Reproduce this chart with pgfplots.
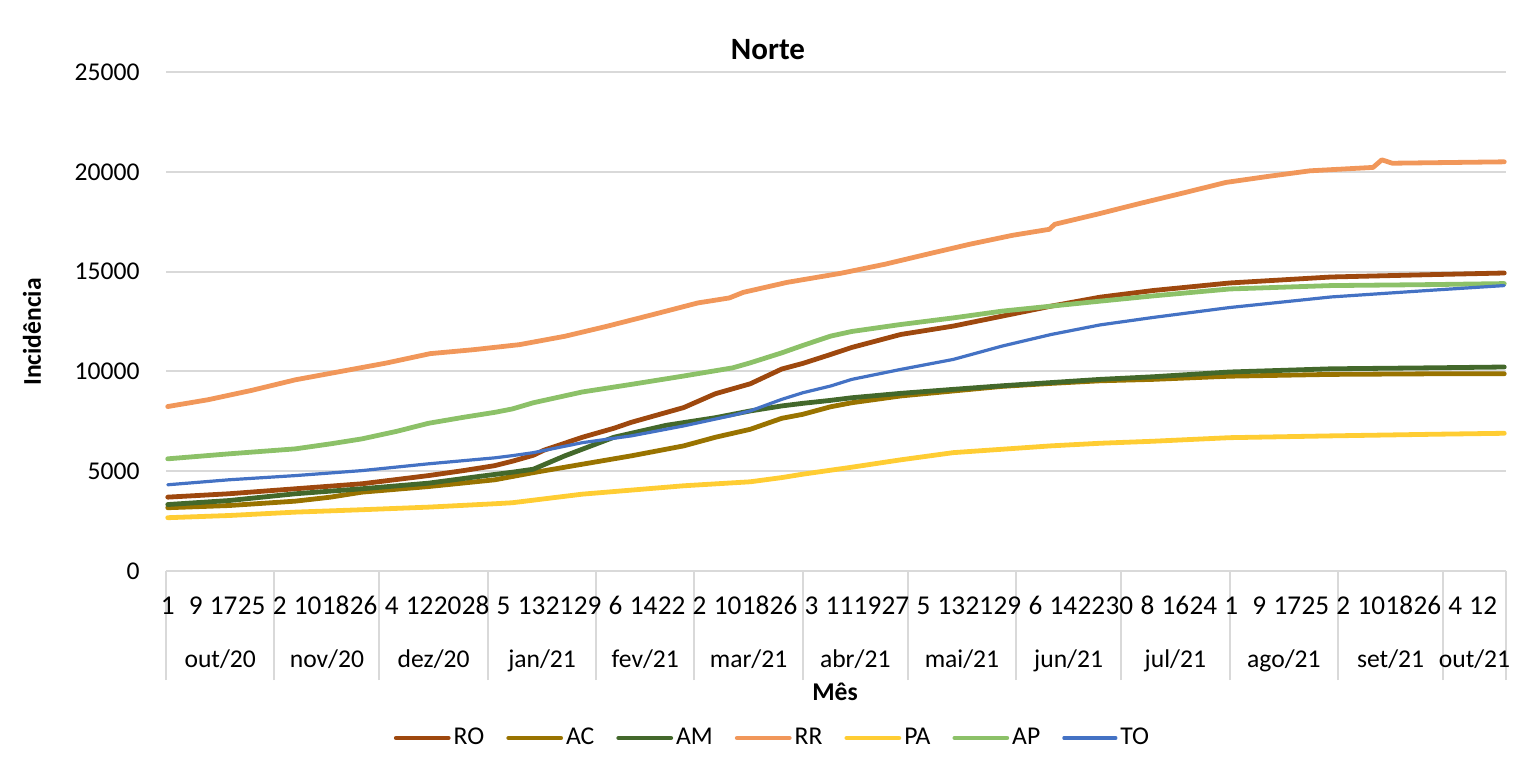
\documentclass[border=0pt]{standalone}
\usepackage{pgfplots}
\pgfplotsset{compat=1.18}
\usepackage{fontspec}
\setmainfont{Carlito}
\definecolor{cRO}{HTML}{9E480E}
\definecolor{cAC}{HTML}{997300}
\definecolor{cAM}{HTML}{43682B}
\definecolor{cRR}{HTML}{F1975A}
\definecolor{cPA}{HTML}{FFCD33}
\definecolor{cAP}{HTML}{8CC168}
\definecolor{cTO}{HTML}{4472C4}
\definecolor{gridgray}{HTML}{D9D9D9}
\begin{document}
\begin{tikzpicture}[font=\fontsize{12.8}{15}\selectfont]
\begin{axis}[
  set layers,
  at={(0pt,0pt)}, anchor=south west,
  scale only axis, width=670pt, height=249.5pt,
  xmin=0, xmax=383, ymin=0, ymax=25000,
  axis line style={draw=none},
  ymajorgrids, grid style={gridgray, line width=1pt},
  ytick={0,5000,10000,15000,20000,25000},
  ytick style={draw=none},
  yticklabel style={anchor=east, inner sep=0pt, xshift=-13pt},
  scaled y ticks=false,
  /pgf/number format/assume math mode=true,
  /pgf/number format/set thousands separator={},
  xtick={0.5,8.5,...,376.5},
  xticklabels={1,9,17,25,2,10,18,26,4,12,20,28,5,13,21,29,6,14,22,2,10,18,26,3,11,19,27,5,13,21,29,6,14,22,30,8,16,24,1,9,17,25,2,10,18,26,4,12},
  xtick pos=bottom,
  xtick style={draw=gridgray, line width=1pt},
  major tick length=0pt,
  xticklabel style={anchor=base, inner sep=0pt, yshift=-21.5pt, font=\fontsize{13.6}{15}\selectfont},
  extra x ticks={0,31,61,92,123,151,182,212,243,273,304,335,365,383},
  extra x tick labels={},
  extra x tick style={major tick length=54.5pt, tick align=outside, xtick pos=bottom},
  clip=false,
  every axis plot/.append style={line width=2.4pt, line join=round, line cap=round, mark=none},
  legend columns=7,
  legend style={draw=none, fill=none, at={(0.453,0)}, anchor=center, yshift=-83.5pt,
    nodes={inner sep=1.5pt},
    /tikz/every even column/.append style={column sep=9.5pt}},
  legend image code/.code={\draw[#1] (0pt,0pt) -- (26pt,0pt);},
]
\addplot[cRO] coordinates {(0.5,3700) (18,3870) (37,4120) (56,4370) (75,4780) (85,5030) (94,5280) (99,5500) (105,5800) (108,6050) (119,6700) (128,7150) (133,7450) (148,8190) (157,8880) (167,9380) (176,10120) (182,10400) (190,10850) (196,11200) (210,11850) (225,12270) (239,12770) (253,13270) (267,13720) (282,14050) (304,14430) (333,14730) (362,14850) (382.5,14930)};
\addlegendentry{RO}
\addplot[cAC] coordinates {(0.5,3170) (18,3280) (37,3500) (47,3700) (56,3950) (75,4230) (94,4570) (105,4930) (119,5350) (133,5770) (148,6270) (157,6700) (167,7100) (176,7650) (182,7850) (190,8230) (196,8430) (210,8770) (225,9020) (239,9250) (253,9400) (267,9530) (282,9600) (304,9760) (333,9850) (362,9880) (382.5,9880)};
\addlegendentry{AC}
\addplot[cAM] coordinates {(0.5,3330) (18,3530) (37,3870) (56,4120) (75,4400) (90,4750) (99,4950) (105,5100) (114,5770) (128,6700) (143,7300) (157,7680) (167,8020) (176,8270) (182,8400) (190,8550) (196,8680) (210,8900) (225,9100) (239,9280) (253,9440) (267,9600) (282,9730) (304,9970) (333,10130) (362,10180) (382.5,10220)};
\addlegendentry{AM}
\addplot[cRR] coordinates {(0.5,8240) (12,8580) (24.5,9050) (37,9580) (50,10000) (63,10420) (75.5,10890) (88,11090) (101,11340) (114,11760) (126,12260) (139,12840) (152,13430) (161,13680) (165,13960) (177.5,14460) (193,14920) (205.5,15370) (217.5,15870) (229.7,16370) (242,16820) (252.5,17120) (254,17370) (266,17870) (278.5,18420) (291,18950) (303,19470) (315,19770) (327,20050) (345,20220) (347.5,20600) (350.5,20430) (382.5,20500)};
\addlegendentry{RR}
\addplot[cPA] coordinates {(0.5,2670) (18,2780) (37,2950) (56,3070) (75,3200) (94,3370) (99,3420) (119,3850) (148,4270) (167,4470) (176,4680) (182,4850) (190,5050) (196,5200) (210,5570) (225,5930) (239,6100) (253,6270) (267,6400) (282,6500) (304,6680) (333,6770) (362,6850) (382.5,6900)};
\addlegendentry{PA}
\addplot[cAP] coordinates {(0.5,5620) (18,5870) (37,6120) (47,6370) (56,6620) (66,7000) (75,7400) (85,7700) (94,7950) (99,8120) (105,8430) (119,8970) (133,9350) (148,9770) (162,10180) (167,10430) (176,10930) (182,11300) (190,11770) (196,12000) (210,12350) (225,12680) (239,13020) (253,13270) (267,13520) (282,13780) (304,14130) (333,14300) (362,14350) (382.5,14400)};
\addlegendentry{AP}
\addplot[cTO, line width=1.6pt] coordinates {(0.5,4320) (18,4570) (37,4780) (56,5030) (75,5370) (94,5670) (99,5780) (105,5930) (119,6430) (133,6770) (148,7270) (162,7800) (167,8020) (176,8600) (182,8930) (190,9270) (196,9600) (210,10100) (225,10600) (239,11270) (253,11850) (267,12330) (282,12700) (304,13200) (333,13730) (362,14070) (382.5,14300)};
\addlegendentry{TO}
\node[anchor=base, yshift=-48pt] at (axis cs:15.5,0) {out/20};
\node[anchor=base, yshift=-48pt] at (axis cs:46,0) {nov/20};
\node[anchor=base, yshift=-48pt] at (axis cs:76.5,0) {dez/20};
\node[anchor=base, yshift=-48pt] at (axis cs:107.5,0) {jan/21};
\node[anchor=base, yshift=-48pt] at (axis cs:137,0) {fev/21};
\node[anchor=base, yshift=-48pt] at (axis cs:166.5,0) {mar/21};
\node[anchor=base, yshift=-48pt] at (axis cs:197,0) {abr/21};
\node[anchor=base, yshift=-48pt] at (axis cs:227.5,0) {mai/21};
\node[anchor=base, yshift=-48pt] at (axis cs:258,0) {jun/21};
\node[anchor=base, yshift=-48pt] at (axis cs:288.5,0) {jul/21};
\node[anchor=base, yshift=-48pt] at (axis cs:319.5,0) {ago/21};
\node[anchor=base, yshift=-48pt] at (axis cs:350,0) {set/21};
\node[anchor=base, yshift=-48pt] at (axis cs:374,0) {out/21};
\end{axis}
\node[anchor=base, font=\bfseries\fontsize{15.5}{18}\selectfont] at (301pt,255.5pt) {Norte};
\node[rotate=90, font=\bfseries\fontsize{12.8}{15}\selectfont] at (-67pt,119.5pt) {Incidência};
\node[anchor=base, font=\bfseries\fontsize{12.8}{15}\selectfont] at (334.5pt,-64.5pt) {Mês};
\pgfresetboundingbox
\path[use as bounding box] (-83pt,-100.5pt) rectangle (679.5pt,285.5pt);
\end{tikzpicture}
\end{document}
